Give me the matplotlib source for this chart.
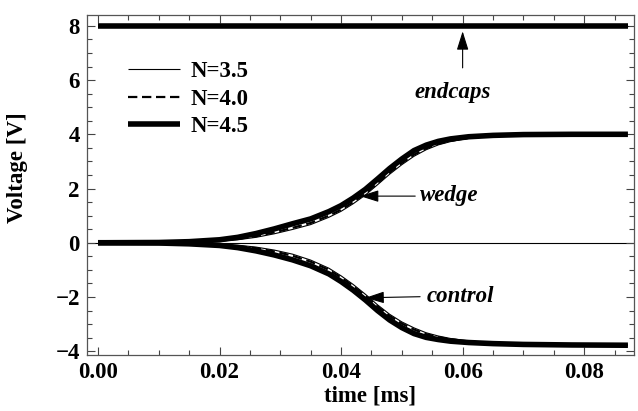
import matplotlib
matplotlib.use("Agg")
import matplotlib.pyplot as plt
from matplotlib.ticker import MultipleLocator, FormatStrFormatter

# ---- data ----
time_ms = [0.0, 0.010, 0.015, 0.020, 0.023, 0.026, 0.029, 0.032, 0.035, 0.038,
           0.040, 0.042, 0.044, 0.046, 0.048, 0.050, 0.052, 0.054, 0.056, 0.058,
           0.061, 0.065, 0.070, 0.078, 0.0872]

wedge_n35 = [0, 0.01, 0.02, 0.06, 0.11, 0.20, 0.33, 0.49, 0.67, 0.94,
             1.16, 1.44, 1.76, 2.14, 2.53, 2.88, 3.19, 3.43, 3.61, 3.73,
             3.85, 3.93, 3.98, 4.00, 4.00]
wedge_n40 = [0, 0.01, 0.03, 0.08, 0.14, 0.24, 0.38, 0.55, 0.73, 1.00,
             1.22, 1.50, 1.82, 2.20, 2.59, 2.94, 3.25, 3.48, 3.65, 3.76,
             3.87, 3.94, 3.98, 4.00, 4.00]
wedge_n45 = [0, 0.01, 0.04, 0.11, 0.20, 0.34, 0.51, 0.70, 0.88, 1.15,
             1.37, 1.65, 1.97, 2.35, 2.74, 3.09, 3.40, 3.60, 3.74, 3.83,
             3.91, 3.96, 3.99, 4.00, 4.00]

control_n35 = [0, -0.01, -0.02, -0.05, -0.09, -0.16, -0.27, -0.42, -0.64, -0.94,
               -1.22, -1.54, -1.90, -2.29, -2.64, -2.92, -3.14, -3.32, -3.44, -3.53,
               -3.62, -3.69, -3.74, -3.77, -3.78]
control_n40 = [0, -0.01, -0.03, -0.07, -0.12, -0.20, -0.32, -0.48, -0.70, -1.00,
               -1.28, -1.60, -1.96, -2.35, -2.70, -2.98, -3.20, -3.37, -3.48, -3.56,
               -3.64, -3.70, -3.74, -3.77, -3.78]
control_n45 = [0, -0.01, -0.04, -0.10, -0.18, -0.30, -0.45, -0.63, -0.85, -1.15,
               -1.43, -1.75, -2.11, -2.50, -2.85, -3.13, -3.35, -3.49, -3.57, -3.63,
               -3.68, -3.72, -3.75, -3.77, -3.78]

endcaps_time = [0.0, 0.0872]
endcaps_v = [8.0, 8.0]

labels = ["N=3.5", "N=4.0", "N=4.5"]
x_ticks = [0.00, 0.02, 0.04, 0.06, 0.08]
y_ticks = [-4, -2, 0, 2, 4, 6, 8]

# ---- styling ----
FONT = "Liberation Serif"
FS = 16.5
plt.rcParams["font.family"] = [FONT, "DejaVu Serif"]
plt.rcParams["font.weight"] = "bold"

W, H = 638, 411
fig = plt.figure(figsize=(W / 100, H / 100), dpi=100)
L, R, T, B = 86.7, 634.0, 15.0, 355.0
ax = fig.add_axes([L / W, 1 - B / H, (R - L) / W, (B - T) / H])

styles = {
    "N=3.5": dict(color="black", lw=0.8, ls="-"),
    "N=4.0": dict(color="black", lw=1.6, ls=(0, (4.2, 2.1))),
    "N=4.5": dict(color="black", lw=4.0, ls="-"),
}

ax.axhline(0, color="black", lw=0.8, zorder=1)

series = {
    "N=4.5": (wedge_n45, control_n45),
    "N=4.0": (wedge_n40, control_n40),
    "N=3.5": (wedge_n35, control_n35),
}
handles = {}
for lab in ["N=4.5", "N=4.0", "N=3.5"]:
    st = styles[lab]
    w, c = series[lab]
    h, = ax.plot(time_ms, w, solid_capstyle="butt", dash_capstyle="butt",
                 solid_joinstyle="round", **st, label=lab)
    ax.plot(time_ms, c, solid_capstyle="butt", dash_capstyle="butt",
            solid_joinstyle="round", **st)
    ax.plot(endcaps_time, endcaps_v, solid_capstyle="butt", dash_capstyle="butt", **st)
    handles[lab] = h

ax.set_xlim(-0.00186, 0.0882)
ax.set_ylim(-4.14, 8.4)
ax.set_xticks(x_ticks)
ax.set_yticks(y_ticks)
ax.xaxis.set_major_formatter(FormatStrFormatter("%.2f"))
ax.xaxis.set_minor_locator(MultipleLocator(0.005))
ax.yaxis.set_minor_locator(MultipleLocator(0.5))
ax.tick_params(which="both", direction="in", top=True, right=True, color="#444444", width=0.8)
ax.tick_params(which="major", length=6, labelsize=FS, pad=5)
ax.tick_params(which="minor", length=3.5)
for lbl in ax.get_xticklabels() + ax.get_yticklabels():
    lbl.set_fontweight("bold")
for sp in ax.spines.values():
    sp.set_color("#555555")
    sp.set_linewidth(0.9)

ax.set_xlabel("time [ms]", fontsize=FS, fontweight="bold")
ax.set_ylabel("Voltage [V]", fontsize=FS, fontweight="bold")
ax.xaxis.set_label_coords((370 - L) / (R - L), -(385 - B) / (B - T))
ax.yaxis.set_label_coords(-(L - 28) / (R - L), (B - 168) / (B - T))

leg = ax.legend([handles[l] for l in labels], labels, loc="upper left",
                bbox_to_anchor=((127.5 - L) / (R - L), (B - 61) / (B - T)),
                frameon=False, borderpad=0, borderaxespad=0, handlelength=2.3,
                handletextpad=0.45, labelspacing=0.29,
                prop=dict(family=FONT, weight="bold", size=FS))

afont = dict(family=FONT, weight="bold", style="italic", size=FS)
aprops = dict(arrowstyle="-|>,head_length=1.15,head_width=0.36", color="black",
              lw=0.8, mutation_scale=10, shrinkA=0, shrinkB=0)
ax.annotate("", xy=(0.0600, 7.80), xytext=(0.0600, 6.45), arrowprops=aprops)
ax.text(0.0584, 5.56, "endcaps", ha="center", va="center", fontdict=afont)
ax.annotate("", xy=(0.0431, 1.72), xytext=(0.0522, 1.72), arrowprops=aprops)
ax.text(0.0530, 1.76, "wedge", ha="left", va="center", fontdict=afont)
ax.annotate("", xy=(0.0440, -2.03), xytext=(0.0530, -1.99), arrowprops=aprops)
ax.text(0.0540, -1.97, "control", ha="left", va="center", fontdict=afont)

fig.savefig("out.png", dpi=100)
